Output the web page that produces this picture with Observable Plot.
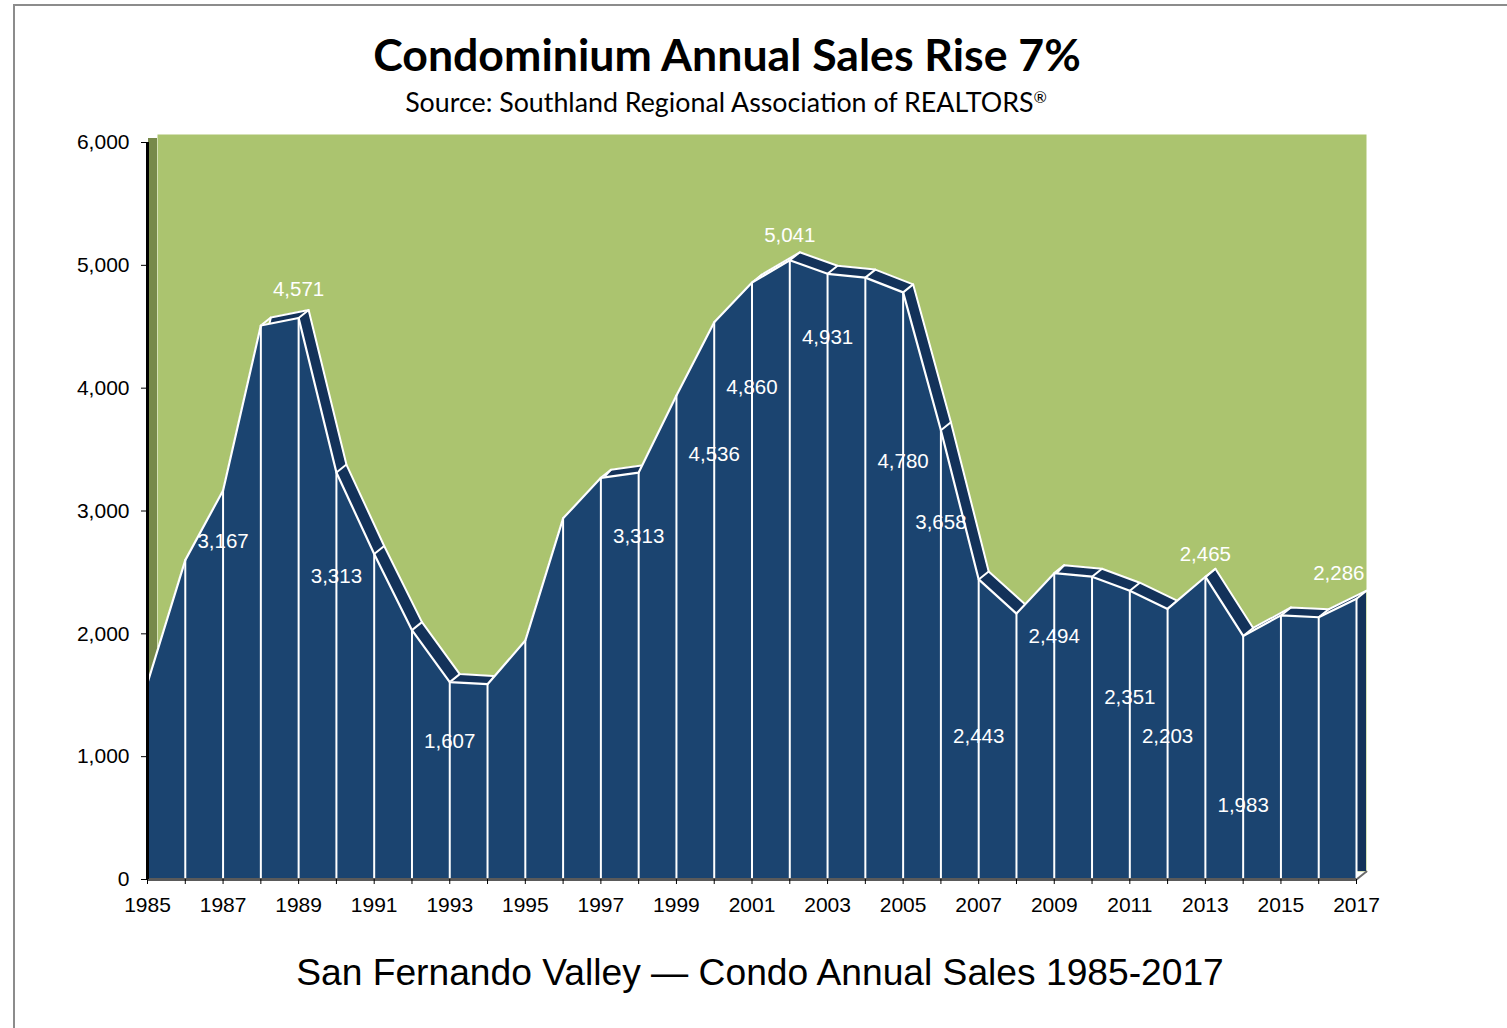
<!DOCTYPE html>
<html>
<head>
<meta charset="utf-8">
<script src="https://cdn.jsdelivr.net/npm/d3@7"></script>
<script src="https://cdn.jsdelivr.net/npm/@observablehq/plot@0.6"></script>
<style>
  html, body { margin: 0; padding: 0; background: #fff; }
  body { width: 1507px; height: 1028px; position: relative; overflow: hidden; }
  #frame { position: absolute; left: 13px; top: 4px; width: 1600px; height: 1100px;
           border-left: 2px solid #8c8c8c; border-top: 2px solid #8c8c8c; }
  .txt { position: absolute; white-space: nowrap; line-height: normal; color: #000; }
  #title { font-family: Lato, "Open Sans", sans-serif; font-weight: 700; font-size: 40px; }
  #subtitle { font-family: Lato, "Open Sans", sans-serif; font-weight: 400; font-size: 27px; }
  #subtitle .reg { font-size: 0.6em; position: relative; top: -0.55em; }
  #caption { font-family: "Liberation Sans", Arial, sans-serif; font-size: 38px; }
  #chart { position: absolute; left: 0; top: 120px; }
  #chart svg text { font-family: "Liberation Sans", Arial, sans-serif; }
</style>
</head>
<body>
<div id="frame"></div>
<div id="title" class="txt">Condominium Annual Sales Rise 7%</div>
<div id="subtitle" class="txt">Source: Southland Regional Association of REALTORS<span class="reg">®</span></div>
<div id="chart"></div>
<div id="caption" class="txt">San Fernando Valley — Condo Annual Sales 1985-2017</div>
<script>
// ---- data ----
const years = [1985, 1986, 1987, 1988, 1989, 1990, 1991, 1992, 1993, 1994, 1995,
               1996, 1997, 1998, 1999, 2000, 2001, 2002, 2003, 2004, 2005, 2006,
               2007, 2008, 2009, 2010, 2011, 2012, 2013, 2014, 2015, 2016, 2017];
const sales = [1600, 2600, 3167, 4510, 4571, 3313, 2650, 2030, 1607, 1590, 1945,
               2940, 3270, 3313, 3940, 4536, 4860, 5041, 4931, 4900, 4780, 3658,
               2443, 2165, 2494, 2465, 2351, 2203, 2465, 1983, 2150, 2135, 2286];
// years that carry a value label, and the level (in sales units) where each label sits
const labelYears  = [1987, 1989, 1990, 1993, 1998, 2000, 2001, 2002, 2003, 2005, 2006,
                     2007, 2009, 2011, 2012, 2013, 2014, 2017];
const labelLevels = [2755, 4803, 2465, 1127, 2792, 3460, 4006, 5243, 4413, 3400, 2903,
                     1164, 1975, 1485, 1168, 2645, 602, 2495];
const yTicks = [0, 1000, 2000, 3000, 4000, 5000, 6000];
const xLabelYears = years.filter(y => y % 2 === 1);

// ---- styles ----
const font = "Liberation Sans, Arial, sans-serif";
const navy = "#1b4470", navyDark = "#13325a", green = "#abc46f", wallGreen = "#77894a";
const depthDx = 10, depthDy = -8;
const depthLen = Math.hypot(depthDx, depthDy);
const depthAngle = Math.atan2(depthDx, -depthDy) * 180 / Math.PI;
const edge = { draw(context, l) { context.moveTo(0, 0); context.lineTo(0, -l); } };

const table = years.map((year, i) => ({ year, sales: sales[i] }));
const labels = labelYears.map((year, i) => ({
  year, level: labelLevels[i], text: d3.format(",")(sales[years.indexOf(year)])
}));
const lastYear = years[years.length - 1];
const fmt = d3.format(",");

const chart = Plot.plot({
  width: 1507,
  height: 804,
  marginLeft: 147,
  marginRight: 151,
  marginTop: 22,
  marginBottom: 45,
  style: { fontFamily: font, fontSize: "20.5px", color: "#000", background: "transparent" },
  x: { type: "linear", domain: [years[0], lastYear] },
  y: { domain: [yTicks[0], yTicks[yTicks.length - 1]] },
  marks: [
    // back wall
    Plot.frame({ fill: green, stroke: null, dx: depthDx, dy: depthDy }),
    // left side wall
    Plot.ruleX([years[0]], { y1: yTicks[0], y2: yTicks[yTicks.length - 1], stroke: wallGreen, strokeWidth: 9, dx: 5, dy: -4 }),
    // back (depth) surface of the area
    Plot.areaY(table, { x: "year", y: "sales", fill: navyDark, dx: depthDx, dy: depthDy }),
    Plot.lineY(table, { x: "year", y: "sales", stroke: "white", strokeWidth: 2, dx: depthDx, dy: depthDy }),
    // depth edges
    Plot.vector(table, { x: "year", y: "sales", length: depthLen, rotate: depthAngle, anchor: "start",
                         shape: edge, stroke: "white", strokeWidth: 2 }),
    // front surface
    Plot.areaY(table, { x: "year", y: "sales", fill: navy }),
    Plot.ruleX(table, { x: "year", y1: 0, y2: "sales", stroke: "white", strokeWidth: 2 }),
    Plot.lineY(table, { x: "year", y: "sales", stroke: "white", strokeWidth: 2.2 }),
    // floor
    Plot.ruleY([0], { stroke: "#5a5a5a", strokeWidth: 3 }),
    Plot.vector([lastYear], { x: d => d, y: 0, length: depthLen, rotate: depthAngle, anchor: "start",
                              shape: edge, stroke: "#6a6a6a", strokeWidth: 2 }),
    // y axis line
    Plot.ruleX([years[0]], { y1: yTicks[0], y2: yTicks[yTicks.length - 1], stroke: "#000", strokeWidth: 3 }),
    // axes
    Plot.axisY(yTicks, { tickFormat: fmt, tickSize: 6, tickPadding: 12, stroke: "#000", label: null,
                         fontFamily: font, fontSize: 21 }),
    Plot.axisX(years, { tickFormat: () => "", tickSize: 5, stroke: "#000", label: null }),
    Plot.axisX(xLabelYears, { tickFormat: d => String(d), tickSize: 0, tickPadding: 18, label: null,
                              fontFamily: font, fontSize: 21 }),
    // value labels
    Plot.text(labels.filter(d => d.year !== lastYear), { x: "year", y: "level", text: "text", fill: "white",
                                                         fontSize: 20.5, fontFamily: font }),
    Plot.text(labels.filter(d => d.year === lastYear), { x: "year", y: "level", text: "text", fill: "white",
                                                         fontSize: 20.5, fontFamily: font, textAnchor: "end", dx: 8 })
  ]
});
document.getElementById("chart").appendChild(chart);

// ---- place title texts: fit width and put baseline at target ----
function place(id, cx, baseline, targetW) {
  const el = document.getElementById(id);
  const fs = parseFloat(getComputedStyle(el).fontSize);
  const w = el.getBoundingClientRect().width;
  el.style.fontSize = (fs * targetW / w) + "px";
  const marker = document.createElement("span");
  marker.style.cssText = "display:inline-block;width:0;height:0;vertical-align:baseline;";
  el.appendChild(marker);
  const r = el.getBoundingClientRect();
  const m = marker.getBoundingClientRect();
  el.style.left = (cx - r.width / 2) + "px";
  el.style.top = (baseline - (m.top - r.top)) + "px";
}
place("title", 727, 71, 708);
place("subtitle", 726, 112, 642);
place("caption", 760, 985, 928);
</script>
</body>
</html>
